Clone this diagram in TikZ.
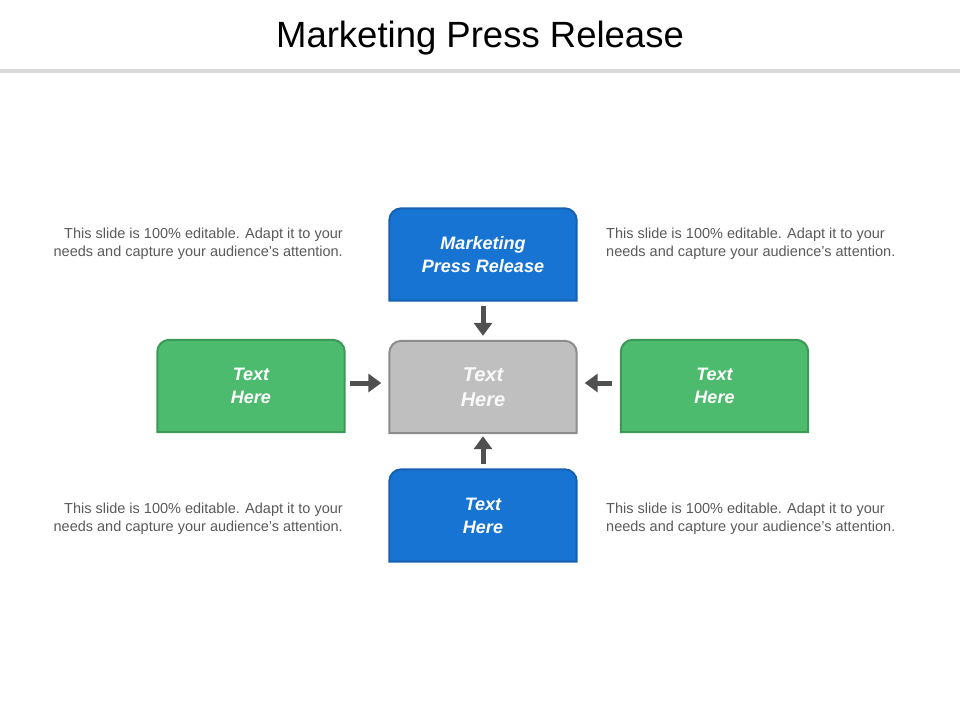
\documentclass[tikz,border=0pt]{standalone}
\usepackage{fontspec}
\setmainfont{Liberation Sans}
\usetikzlibrary{arrows.meta}
\definecolor{bl}{HTML}{1874D2}\definecolor{blb}{HTML}{1560B0}
\definecolor{gr}{HTML}{4DBB6E}\definecolor{grb}{HTML}{3A9A55}
\definecolor{gy}{HTML}{BFBFBF}\definecolor{gyb}{HTML}{8C8C8C}
\definecolor{tx}{HTML}{595959}
\begin{document}
\begin{tikzpicture}[x=1pt,y=-1pt,
 box/.style={minimum width=187pt,minimum height=92pt,inner sep=0,align=center,text=white,font=\fontsize{18}{23}\selectfont\bfseries\itshape},
 desc/.style={font=\fontsize{14.5}{18}\selectfont,text=tx,inner sep=0},
 arr/.style={-{Triangle[length=13pt,width=18pt]},line width=5pt,draw=tx!90!black}]
\useasboundingbox (0,0) rectangle (960,720);
\node[font=\fontsize{36.5}{42}\selectfont] (title) at (480,38) {Marketing Press Release};
\coordinate (l1) at (0,71); \coordinate (l2) at (960,71);
\draw[line width=4pt,draw=black!15] (l1) -- (l2);
\node[box] (top) at (483,254.5) {Marketing\\Press Release};
\node[box] (mid) at (483,387) {};
\node[box] (lft) at (251,386) {Text\\Here};
\node[box] (rgt) at (714.5,386) {Text\\Here};
\node[box] (bot) at (483,515.5) {Text\\Here};
\foreach \n/\f/\d in {top/bl/blb,mid/gy/gyb,lft/gr/grb,rgt/gr/grb,bot/bl/blb}{
 \filldraw[fill=\f,draw=\d,line width=2pt] (\n.south west) [rounded corners=12pt] -- (\n.north west) -- (\n.north east) [sharp corners] -- (\n.south east) -- cycle;}
\node[box,font=\fontsize{20}{25}\selectfont\bfseries\itshape,text=white!95!gray] at (mid) {Text\\Here};
\node[box] at (top) {Marketing\\Press Release};
\node[box] at (lft) {Text\\Here};
\node[box] at (rgt) {Text\\Here};
\node[box] at (bot) {Text\\Here};
\draw[arr] ([yshift=-5pt]top.south) -- ([yshift=5pt]mid.north);
\draw[arr] ([yshift=5pt]bot.north) -- ([yshift=-3pt]mid.south);
\draw[arr] ([xshift=5pt,yshift=4pt]lft.east |- mid) -- ([xshift=-8pt,yshift=4pt]mid.west);
\draw[arr] ([xshift=-9pt,yshift=4pt]rgt.west |- mid) -- ([xshift=8pt,yshift=4pt]mid.east);
\node[desc,align=right,anchor=east] (d1) at (343,244) {This slide is 100\% editable. Adapt it to your\\needs and capture your audience's attention.};
\node[desc,align=left,anchor=west] (d2) at (606,244) {This slide is 100\% editable. Adapt it to your\\needs and capture your audience's attention.};
\node[desc,align=right,anchor=east] (d3) at (343,519) {This slide is 100\% editable. Adapt it to your\\needs and capture your audience's attention.};
\node[desc,align=left,anchor=west] (d4) at (606,519) {This slide is 100\% editable. Adapt it to your\\needs and capture your audience's attention.};
\end{tikzpicture}
\end{document}
